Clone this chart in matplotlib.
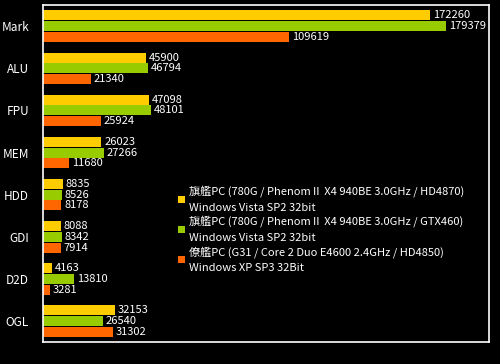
import matplotlib.pyplot as plt
import numpy as np

plt.rcParams['font.family'] = ['Noto Sans CJK JP', 'DejaVu Sans']

categories = ['Mark', 'ALU', 'FPU', 'MEM', 'HDD', 'GDI', 'D2D', 'OGL']
pc1 = [172260, 45900, 47098, 26023, 8835, 8088, 4163, 32153]
pc2 = [179379, 46794, 48101, 27266, 8526, 8342, 13810, 26540]
pc3 = [109619, 21340, 25924, 11680, 8178, 7914, 3281, 31302]
names = ['旗艦PC (780G / PhenomⅡ X4 940BE 3.0GHz / HD4870)\nWindows Vista SP2 32bit',
         '旗艦PC (780G / PhenomⅡ X4 940BE 3.0GHz / GTX460)\nWindows Vista SP2 32bit',
         '僚艦PC (G31 / Core 2 Duo E4600 2.4GHz / HD4850)\nWindows XP SP3 32Bit']
colors = ['#FFCC00', '#99CC00', '#FF6600']

fig = plt.figure(figsize=(5, 3.64), dpi=100, facecolor='black')
ax = fig.add_axes([0.086, 0.06, 0.892, 0.926], facecolor='black')

y = np.arange(len(categories))
h = 0.235
for i, (vals, c, n) in enumerate(zip([pc1, pc2, pc3], colors, names)):
    pos = y + (i - 1) * (h + 0.02)
    ax.barh(pos, vals, height=h, color=c, label=n)
    for p, v in zip(pos, vals):
        ax.text(v + 1200, p, str(v), color='white', va='center', ha='left', fontsize=8)

ax.set_xlim(0, 198500)
ax.set_ylim(len(categories) - 0.5, -0.5)
ax.set_yticks(y)
ax.set_yticklabels(categories, color='white', fontsize=8.5)
ax.tick_params(axis='y', length=0, pad=10)
ax.set_xticks([])
for s in ax.spines.values():
    s.set_color('white')
    s.set_linewidth(1.2)

leg = ax.legend(loc='center left', bbox_to_anchor=(0.28, 0.335), frameon=False,
                fontsize=8, labelcolor='white', handlelength=0.6, handleheight=0.6,
                handletextpad=0.4, labelspacing=0.25,
                prop={'size': 8})
for t in leg.get_texts():
    t.set_linespacing(1.7)

fig.savefig('out.png', dpi=100, facecolor='black')
